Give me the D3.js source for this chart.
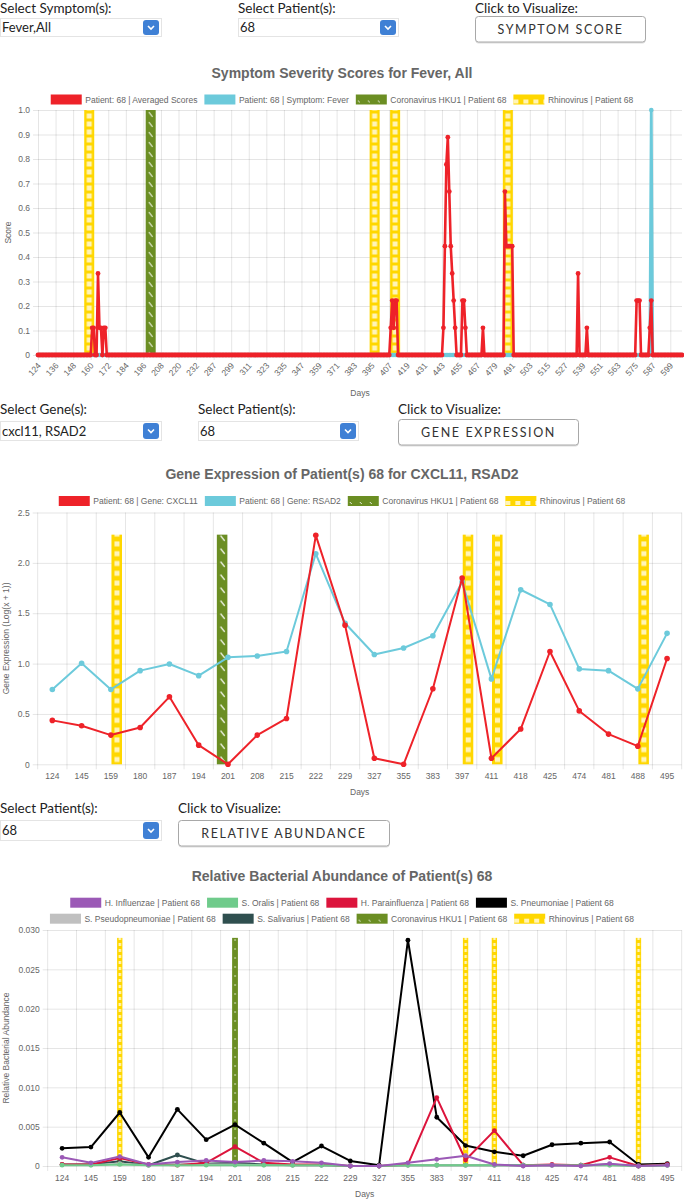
<!DOCTYPE html>
<html><head><meta charset="utf-8">
<script src="https://cdn.jsdelivr.net/npm/d3@7"></script>
<style>
body{margin:0;background:#fff;width:684px;height:1200px;overflow:hidden;}
svg{display:block}
</style></head><body>
<svg id="c" width="684" height="1200"></svg>
<script>
// ================= DATA =================
// Chart 1 : symptom scores (daily categories; days 233-275 absent)
const symptomDayRanges = [[124, 232], [276, 607]];
const symptomLabelEvery = 12;
const symptomYTicks = [0,0.1,0.2,0.3,0.4,0.5,0.6,0.7,0.8,0.9,1.0];
// all other days are 0
const avgScoreNonZero = [
  [161,0.111],[162,0.111],[165,0.333],[166,0.111],[167,0.111],[169,0.111],[170,0.111],
  [408,0.111],[409,0.222],[410,0.111],[411,0.222],[412,0.222],
  [444,0.111],[445,0.444],[446,0.778],[447,0.889],[448,0.667],[449,0.444],[450,0.333],[451,0.222],[452,0.111],
  [457,0.222],[458,0.222],[459,0.111],
  [471,0.111],
  [486,0.667],[487,0.444],[488,0.444],[489,0.444],[490,0.444],[491,0.444],
  [536,0.333],[542,0.111],
  [576,0.222],[577,0.222],[578,0.222],
  [585,0.111],[586,0.222]
];
const feverNonZero = [[586,1.0]];
const symptomRhinoDays = [159,397,411,488];
const symptomCoronaDays = [201];
const symptomBarValue = 1.0;

// Chart 2 : gene expression
const geneDays = [124,145,159,180,187,194,201,208,215,222,229,327,355,383,397,411,418,425,474,481,488,495];
const cxcl11 = [0.436,0.382,0.29,0.366,0.67,0.19,0.0,0.29,0.455,2.273,1.38,0.06,0.0,0.75,1.85,0.06,0.35,1.12,0.53,0.30,0.18,1.05];
const rsad2  = [0.743,1.003,0.743,0.93,0.996,0.88,1.062,1.075,1.12,2.09,1.40,1.09,1.155,1.277,1.81,0.848,1.733,1.587,0.947,0.93,0.749,1.30];
const geneRhinoDays = [159,397,411,488];
const geneCoronaDays = [201];
const geneBarValue = 2.28;
const geneYTicks = [0,0.5,1.0,1.5,2.0,2.5];

// Chart 3 : relative bacterial abundance
const abundDays = [124,145,159,180,187,194,201,208,215,222,229,327,355,383,397,411,418,425,474,481,488,495];
const hInfluenzae   = [0.0011,0.0004,0.0012,0.0002,0.0005,0.0007,0.0005,0.0007,0.0006,0.0004,0.0,0.0,0.0004,0.00085,0.0013,0.0002,0.0,0.0001,0.0,0.0003,0.0,0.0001];
const sOralis       = [0.0001,0.0001,0.0002,0.0001,0.0001,0.0001,0.0001,0.0001,0.0001,0.0001,0.0,0.0,0.0001,0.0001,0.0001,0.0001,0.0001,0.0001,0.0001,0.0001,0.0,0.0001];
const hParainfluenza= [0.0002,0.0002,0.0010,0.0002,0.0001,0.0004,0.00245,0.0004,0.0002,0.0002,0.0,0.0,0.0002,0.0087,0.00076,0.0045,0.0001,0.0002,0.0001,0.0011,0.0,0.0002];
const sPneumoniae   = [0.00225,0.0024,0.0068,0.0011,0.0072,0.00335,0.00525,0.0029,0.0005,0.00254,0.00064,0.0001,0.0287,0.0062,0.0026,0.0018,0.0013,0.0027,0.0029,0.00305,0.0002,0.0003];
const sPseudopneumoniae = [0.0002,0.0001,0.0003,0.0001,0.0003,0.0002,0.0002,0.0001,0.0001,0.0001,0.0,0.0,0.0001,0.0001,0.0001,0.0001,0.0,0.0001,0.0001,0.0001,0.0,0.0001];
const sSalivarius   = [0.0002,0.0002,0.0006,0.0001,0.0014,0.0003,0.0004,0.0002,0.0001,0.0001,0.0,0.0,0.0001,0.0001,0.0001,0.0001,0.0001,0.0001,0.0001,0.0002,0.0,0.0001];
const abundRhinoDays = [159,397,411,488];
const abundCoronaDays = [201];
const abundBarValue = 0.029;
const abundYTicks = [0,0.005,0.010,0.015,0.020,0.025,0.030];

// ================= STYLE =================
const W = 684;
const FONT = "'Liberation Sans', Arial, Helvetica, sans-serif";
const UIFONT = "Lato, 'Open Sans', sans-serif";
const GRID = 'rgba(0,0,0,0.1)';
const TXT = '#666';
const RED = '#ee2229', CYAN = '#6ccadb', OLIVE = '#6b8e23', GOLD = '#ffd700';
const PURPLE = '#9b59b6', ORALIS = '#6fcb8b', CRIMSON = '#dc143c', BLACK = '#000000', SILVER = '#c0c0c0', SLATE = '#2f4f4f';

const svg = d3.select('#c');
const defs = svg.append('defs');

function rhinoPattern(id, w, h, sx, sy, sw, sh){
  const p = defs.append('pattern').attr('id', id).attr('patternUnits','userSpaceOnUse').attr('width', w).attr('height', h);
  p.append('rect').attr('width', w).attr('height', h).attr('fill', GOLD);
  p.append('rect').attr('x', sx).attr('y', sy).attr('width', sw).attr('height', sh).attr('fill','rgba(255,255,255,0.72)');
}
function coronaPattern(id, w, h, x1, y1, x2, y2, sw){
  const p = defs.append('pattern').attr('id', id).attr('patternUnits','userSpaceOnUse').attr('width', w).attr('height', h);
  p.append('rect').attr('width', w).attr('height', h).attr('fill', OLIVE);
  p.append('line').attr('x1', x1).attr('y1', y1).attr('x2', x2).attr('y2', y2)
    .attr('stroke','rgba(255,255,255,0.85)').attr('stroke-width', sw).attr('stroke-linecap','round');
}
rhinoPattern('rh1', 10, 8, 2.5, 1.5, 5, 5);
coronaPattern('co1', 10, 10, 3.5, 2.5, 6.5, 6.5, 1.2);
rhinoPattern('rh2', 11, 9.8, 3, 2.4, 5, 5);
coronaPattern('co2', 11, 13, 4, 3, 7.5, 7.5, 1.3);
rhinoPattern('rh3', 5.5, 6, 1.5, 1, 2.5, 3);
(function(){
  const p = defs.append('pattern').attr('id','co3').attr('patternUnits','userSpaceOnUse').attr('width',6).attr('height',9);
  p.append('rect').attr('width',6).attr('height',9).attr('fill',OLIVE);
  p.append('circle').attr('cx',3).attr('cy',4).attr('r',0.8).attr('fill','rgba(255,255,255,0.85)');
})();
// legend swatch patterns
(function(){
  const p = defs.append('pattern').attr('id','rhL').attr('patternUnits','userSpaceOnUse').attr('width',10).attr('height',10);
  p.append('rect').attr('width',10).attr('height',10).attr('fill',GOLD);
  p.append('rect').attr('x',0).attr('y',0).attr('width',5).attr('height',4).attr('fill','rgba(255,255,255,0.72)');
  const q = defs.append('pattern').attr('id','coL').attr('patternUnits','userSpaceOnUse').attr('width',10).attr('height',10);
  q.append('rect').attr('width',10).attr('height',10).attr('fill',OLIVE);
  q.append('line').attr('x1',2).attr('y1',1).attr('x2',4).attr('y2',3).attr('stroke','rgba(255,255,255,0.85)').attr('stroke-width',1);
})();

// ================= CONTROLS =================
function uiLabel(x, y, t){
  svg.append('text').attr('x', x).attr('y', y).attr('font-family', UIFONT).attr('font-size', 13.5)
    .attr('fill','#222').text(t);
}
function uiSelect(x, y, w, h, t){
  const g = svg.append('g').attr('transform', `translate(${x},${y})`);
  g.append('rect').attr('x',0.5).attr('y',0.5).attr('width',w-1).attr('height',h-1).attr('fill','#fff').attr('stroke','#e4e4e4');
  g.append('text').attr('x',2).attr('y',h/2+4.5).attr('font-family',UIFONT).attr('font-size',13).attr('fill','#222').text(t);
  const bx = w - 19;
  g.append('rect').attr('x',bx).attr('y',2).attr('width',16).attr('height',h-4).attr('rx',3).attr('fill','#3f80d5');
  g.append('path').attr('d',`M${bx+5},${h/2-1.5} L${bx+8},${h/2+1.5} L${bx+11},${h/2-1.5}`)
    .attr('stroke','#fff').attr('stroke-width',1.6).attr('fill','none');
}
function uiButton(x, y, w, h, t){
  const g = svg.append('g').attr('transform', `translate(${x},${y})`);
  g.append('rect').attr('x',0.5).attr('y',1.5).attr('width',w-1).attr('height',h-1).attr('rx',3).attr('fill','#ddd');
  g.append('rect').attr('x',0.5).attr('y',0.5).attr('width',w-1).attr('height',h-1.5).attr('rx',3).attr('fill','#fff').attr('stroke','#a8a8a8');
  g.append('text').attr('x',w/2).attr('y',h/2+4.5).attr('text-anchor','middle').attr('font-family',UIFONT)
    .attr('font-size',12.5).attr('letter-spacing',1.6).attr('fill','#333').text(t);
}
uiLabel(0, 13, 'Select Symptom(s):');
uiSelect(0, 18, 162, 19, 'Fever,All');
uiLabel(238, 13, 'Select Patient(s):');
uiSelect(238, 18, 161, 19, '68');
uiLabel(475, 13, 'Click to Visualize:');
uiButton(475, 16, 171, 27, 'SYMPTOM SCORE');

uiLabel(0, 414, 'Select Gene(s):');
uiSelect(0, 421, 162, 20, 'cxcl11, RSAD2');
uiLabel(198, 414, 'Select Patient(s):');
uiSelect(198, 421, 161, 20, '68');
uiLabel(398, 414, 'Click to Visualize:');
uiButton(398, 419, 181, 27, 'GENE EXPRESSION');

uiLabel(0, 813, 'Select Patient(s):');
uiSelect(0, 820, 162, 21, '68');
uiLabel(178, 813, 'Click to Visualize:');
uiButton(178, 820, 212, 27, 'RELATIVE ABUNDANCE');

// ================= HELPERS =================
function title(y, t){
  svg.append('text').attr('x', W/2).attr('y', y).attr('text-anchor','middle').attr('font-family',FONT)
    .attr('font-weight','bold').attr('font-size',14).attr('fill',TXT).text(t);
}
function legend(rows, cy0, rowH){
  rows.forEach((items, r) => {
    const cy = cy0 + r*rowH;
    const g = svg.append('g');
    let x = 0;
    items.forEach(it => {
      const gi = g.append('g');
      gi.append('rect').attr('x',0).attr('y',-5).attr('width',31).attr('height',10).attr('fill', it.fill);
      const t = gi.append('text').attr('x',34.5).attr('y',3).attr('font-family',FONT).attr('font-size',8.5)
        .attr('fill',TXT).text(it.label);
      gi.attr('transform', `translate(${x},${cy})`);
      x += 34.5 + t.node().getComputedTextLength() + 7;
    });
    g.attr('transform', `translate(${(W - (x-7))/2},0)`);
  });
}
function styleAxis(g){
  g.select('.domain').remove();
  g.selectAll('.tick line').attr('stroke', GRID);
  g.selectAll('.tick text').attr('fill', TXT).attr('font-family', FONT).attr('font-size', 8.5);
}
function yTitle(x, y, t){
  svg.append('text').attr('transform', `translate(${x},${y}) rotate(-90)`).attr('text-anchor','middle')
    .attr('font-family',FONT).attr('font-size',8.5).attr('fill',TXT).text(t);
}
function xTitle(x, y, t){
  svg.append('text').attr('x', x).attr('y', y).attr('text-anchor','middle')
    .attr('font-family',FONT).attr('font-size',8.5).attr('fill',TXT).text(t);
}
function drawBars(parent, days, xf, y0, y1, w, pat){
  days.forEach(d => {
    const g = parent.append('g').attr('transform', `translate(${xf(d) - w/2},0)`);
    g.append('rect').attr('x',0).attr('y',y1).attr('width',w).attr('height',y0 - y1).attr('fill',`url(#${pat})`);
  });
}
function drawSeries(parent, data, xf, yf, color, lw, r){
  const line = d3.line().x(d => xf(d[0])).y(d => yf(d[1]));
  parent.append('path').datum(data).attr('d', line).attr('fill','none').attr('stroke',color)
    .attr('stroke-width',lw).attr('stroke-linejoin','round');
  parent.selectAll(null).data(data).join('circle').attr('cx', d => xf(d[0])).attr('cy', d => yf(d[1]))
    .attr('r', r).attr('fill', color);
}

// ================= CHART 1 =================
(function(){
  const L = 38, R = 682, T = 110, B = 355;
  const days = symptomDayRanges.flatMap(([a,b]) => d3.range(a, b+1));
  const x = d3.scalePoint().domain(days).range([L, R]);
  const y = d3.scaleLinear().domain([0, 1]).range([B, T]);
  const avgMap = new Map(avgScoreNonZero), fevMap = new Map(feverNonZero);
  const avg = days.map(d => [d, avgMap.get(d) || 0]);
  const fev = days.map(d => [d, fevMap.get(d) || 0]);

  title(78, 'Symptom Severity Scores for Fever, All');
  legend([[
    {fill: RED, label: 'Patient: 68 | Averaged Scores'},
    {fill: CYAN, label: 'Patient: 68 | Symptom: Fever'},
    {fill: 'url(#coL)', label: 'Coronavirus HKU1 | Patient 68'},
    {fill: 'url(#rhL)', label: 'Rhinovirus | Patient 68'}
  ]], 99.5, 16);

  const ya = svg.append('g').attr('transform', `translate(${L-5},0)`)
    .call(d3.axisLeft(y).tickValues(symptomYTicks).tickSize(-(R - L + 5)).tickPadding(3)
      .tickFormat(v => v === 0 ? '0' : d3.format('.1f')(v)));
  styleAxis(ya);
  const tickDays = days.filter((d,i) => i % symptomLabelEvery === 0);
  const xa = svg.append('g').attr('transform', `translate(0,${B+5})`)
    .call(d3.axisBottom(x).tickValues(tickDays).tickSize(-(B - T + 5)));
  styleAxis(xa);
  xa.selectAll('.tick text').attr('x',0).attr('y',0).attr('dy',0).attr('text-anchor','end')
    .attr('transform','translate(3,6) rotate(-48)');
  yTitle(11, (T+B)/2, 'Score');
  xTitle((L+R)/2, 396, 'Days');

  const plot = svg.append('g');
  drawBars(plot, symptomCoronaDays, x, y(0), y(symptomBarValue), 10, 'co1');
  drawBars(plot, symptomRhinoDays, x, y(0), y(symptomBarValue), 10, 'rh1');
  drawSeries(plot, fev, x, y, CYAN, 2.8, 2.3);
  drawSeries(plot, avg, x, y, RED, 2.6, 2.4);
})();

// ================= CHART 2 =================
(function(){
  const L = 37.7, R = 681.7, T = 512.5, B = 764.3;
  const x = d3.scaleBand().domain(geneDays).range([L, R]);
  const xc = d => x(d) + x.bandwidth()/2;
  const y = d3.scaleLinear().domain([0, 2.5]).range([B, T]);
  const sub = d3.scaleBand().domain(['corona','rhino']).range([x.bandwidth()*0.1, x.bandwidth()*0.9]).paddingInner(0.1).paddingOuter(0.05);

  title(479, 'Gene Expression of Patient(s) 68 for CXCL11, RSAD2');
  legend([[
    {fill: RED, label: 'Patient: 68 | Gene: CXCL11'},
    {fill: CYAN, label: 'Patient: 68 | Gene:  RSAD2'},
    {fill: 'url(#coL)', label: 'Coronavirus HKU1 | Patient 68'},
    {fill: 'url(#rhL)', label: 'Rhinovirus | Patient 68'}
  ]], 501, 16);

  const ya = svg.append('g').attr('transform', `translate(${L-5},0)`)
    .call(d3.axisLeft(y).tickValues(geneYTicks).tickSize(-(R - L + 5)).tickPadding(3)
      .tickFormat(v => v === 0 ? '0' : d3.format('.1f')(v)));
  styleAxis(ya);
  const bounds = geneDays.map(d => x(d)).concat([R]);
  svg.append('g').selectAll('line').data(bounds).join('line')
    .attr('x1', d => d).attr('x2', d => d).attr('y1', T).attr('y2', B + 5).attr('stroke', GRID);
  const xa = svg.append('g').attr('transform', `translate(0,${B})`)
    .call(d3.axisBottom(x).tickSize(0).tickPadding(9));
  styleAxis(xa);
  yTitle(9, (T+B)/2, 'Gene Expression (Log(x + 1))');
  xTitle((L+R)/2, 795, 'Days');

  const plot = svg.append('g');
  const bw = sub.bandwidth();
  drawBars(plot, geneCoronaDays, d => x(d) + sub('corona') + bw/2, y(0), y(geneBarValue), bw, 'co2');
  drawBars(plot, geneRhinoDays, d => x(d) + sub('rhino') + bw/2, y(0), y(geneBarValue), bw, 'rh2');
  drawSeries(plot, geneDays.map((d,i) => [d, rsad2[i]]), xc, y, CYAN, 2, 2.8);
  drawSeries(plot, geneDays.map((d,i) => [d, cxcl11[i]]), xc, y, RED, 2, 2.8);
})();

// ================= CHART 3 =================
(function(){
  const L = 47.7, R = 681.7, T = 930, B = 1166;
  const x = d3.scaleBand().domain(abundDays).range([L, R]);
  const xc = d => x(d) + x.bandwidth()/2;
  const y = d3.scaleLinear().domain([0, 0.030]).range([B, T]);

  title(881, 'Relative Bacterial Abundance of Patient(s) 68');
  legend([
    [{fill: PURPLE, label: 'H. Influenzae | Patient 68'},
     {fill: ORALIS, label: 'S. Oralis | Patient 68'},
     {fill: CRIMSON, label: 'H. Parainfluenza | Patient 68'},
     {fill: BLACK, label: 'S. Pneumoniae | Patient 68'}],
    [{fill: SILVER, label: 'S. Pseudopneumoniae | Patient 68'},
     {fill: SLATE, label: 'S. Salivarius | Patient 68'},
     {fill: 'url(#coL)', label: 'Coronavirus HKU1 | Patient 68'},
     {fill: 'url(#rhL)', label: 'Rhinovirus | Patient 68'}]
  ], 902.7, 16);

  const ya = svg.append('g').attr('transform', `translate(${L-5},0)`)
    .call(d3.axisLeft(y).tickValues(abundYTicks).tickSize(-(R - L + 5)).tickPadding(3)
      .tickFormat(v => v === 0 ? '0' : d3.format('.3f')(v)));
  styleAxis(ya);
  const bounds = abundDays.map(d => x(d)).concat([R]);
  svg.append('g').selectAll('line').data(bounds).join('line')
    .attr('x1', d => d).attr('x2', d => d).attr('y1', T).attr('y2', B + 5).attr('stroke', GRID);
  const xa = svg.append('g').attr('transform', `translate(0,${B})`)
    .call(d3.axisBottom(x).tickSize(0).tickPadding(9));
  styleAxis(xa);
  yTitle(9, (T+B)/2, 'Relative Bacterial Abundance');
  xTitle((L+R)/2, 1197, 'Days');

  const plot = svg.append('g');
  drawBars(plot, abundCoronaDays, xc, y(0), y(abundBarValue), 5.8, 'co3');
  drawBars(plot, abundRhinoDays, xc, y(0), y(abundBarValue), 5.3, 'rh3');
  const series = [
    [sSalivarius, SLATE], [sPseudopneumoniae, SILVER], [sPneumoniae, BLACK],
    [hParainfluenza, CRIMSON], [sOralis, ORALIS], [hInfluenzae, PURPLE]
  ];
  series.forEach(([vals, col]) => drawSeries(plot, abundDays.map((d,i) => [d, vals[i]]), xc, y, col, 2, 2.4));
})();
</script></body></html>
